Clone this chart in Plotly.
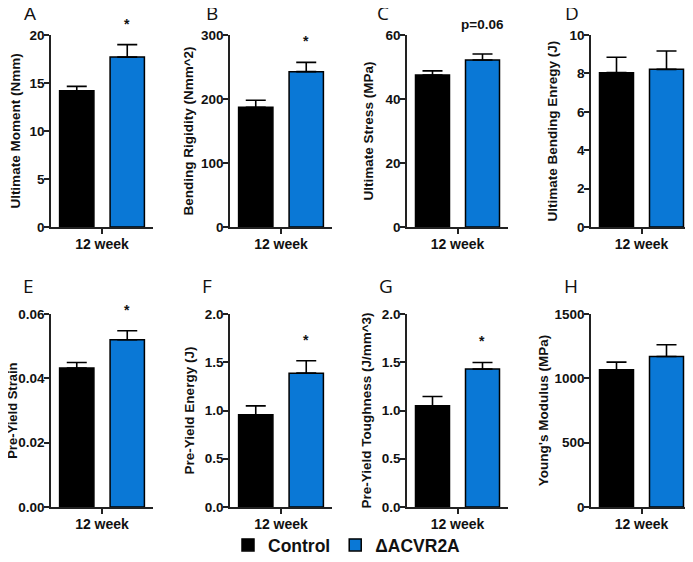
import plotly.graph_objects as go
from plotly.subplots import make_subplots

# The page body adds an 8px margin; the figure is sized so it fills the window from there.
PAGE_W, PAGE_H = 693, 562
OFF = 8
W, H = PAGE_W - OFF, PAGE_H - OFF

# ---------------- data ----------------
groups = ["Control", "ΔACVR2A"]
category = ["12 week"]
panel_letters = ["A", "B", "C", "D", "E", "F", "G", "H"]
y_titles = ["Ultimate Moment (Nmm)", "Bending Rigidity (Nmm^2)", "Ultimate Stress (MPa)",
            "Ultimate Bending Enregy (J)", "Pre-Yield Strain", "Pre-Yield Energy (J)",
            "Pre-Yield Toughness (J/mm^3)", "Young's Modulus (MPa)"]
control_mean = [14.2, 187, 47.5, 8.04, 0.0432, 0.955, 1.05, 1066]
control_sem = [0.45, 11, 1.3, 0.80, 0.0017, 0.093, 0.095, 60]
acvr_mean = [17.7, 242.7, 52.2, 8.21, 0.052, 1.387, 1.429, 1170]
acvr_sem = [1.3, 14.5, 1.85, 0.96, 0.0028, 0.128, 0.069, 91]
y_max = [20, 300, 60, 10, 0.06, 2.0, 2.0, 1500]
y_dtick = [5, 100, 20, 2, 0.02, 0.5, 0.5, 500]
y_format = ["", "", "", "", ".2f", ".1f", ".1f", ""]
significance = ["*", "*", "p=0.06", "", "*", "*", "*", ""]

# ---------------- layout geometry (page px) ----------------
col_px = [(51, 153), (230, 332), (407, 508), (591, 692)]
row_px = [(35, 227), (314, 507)]
letter_px = [(30, 13), (212, 13), (383, 13), (572, 13),
             (28, 286), (207, 286), (386, 286), (571, 286)]
title_standoff = [7, 4, 9, 9, None, 7, 7, 3]   # None: title drawn at the page edge
edge_title_x = 12.3


def fx(px):
    return (px - OFF) / W


def fy(py):
    return 1 - (py - OFF) / H


BLACK = "#000000"
BLUE = "#0a78d6"
AXIS = "#222222"
FONT = "Arial, Liberation Sans, sans-serif"
title_font = dict(family=FONT, size=13.5, color="#111", weight="bold")

fig = make_subplots(rows=2, cols=4)

for i in range(8):
    r, c = divmod(i, 4)
    for name, mean, sem, color in [(groups[0], control_mean, control_sem, BLACK),
                                   (groups[1], acvr_mean, acvr_sem, BLUE)]:
        fig.add_trace(go.Bar(
            x=category, y=[mean[i]], name=name, legendgroup=name,
            showlegend=(i == 0),
            marker=dict(color=color, line=dict(color=BLACK, width=1.5)),
            error_y=dict(type="data", array=[sem[i]], arrayminus=[0], symmetric=False,
                         color=BLACK, thickness=1.6, width=10),
        ), row=r + 1, col=c + 1)

    x0, x1 = col_px[c]
    y0, y1 = row_px[r]
    xa = "xaxis" if i == 0 else f"xaxis{i+1}"
    ya = "yaxis" if i == 0 else f"yaxis{i+1}"
    fig.layout[xa].update(
        domain=[fx(x0), min(fx(x1), 1)], showline=True, linecolor=AXIS, linewidth=1.5,
        ticks="outside", ticklen=5, tickcolor=AXIS, tickwidth=1.5, ticklabelstandoff=-2,
        tickfont=dict(family=FONT, size=14, color="#111", weight="bold"),
        showgrid=False, zeroline=False, fixedrange=True, automargin=False)
    fig.layout[ya].update(
        domain=[fy(y1), fy(y0)], range=[0, y_max[i]], dtick=y_dtick[i],
        tickformat=y_format[i], showline=True, linecolor=AXIS, linewidth=1.5,
        ticks="outside", ticklen=5, tickcolor=AXIS, tickwidth=1.5, ticklabelstandoff=-3,
        tickfont=dict(family=FONT, size=13.5, color="#111", weight="bold"),
        showgrid=False, zeroline=False, fixedrange=True, automargin=False)
    if title_standoff[i] is not None:
        fig.layout[ya].title = dict(text=y_titles[i], font=title_font, standoff=title_standoff[i])
    else:
        fig.add_annotation(x=fx(edge_title_x), y=(fy(y0) + fy(y1)) / 2, xref="paper", yref="paper",
                           text=y_titles[i], textangle=-90, showarrow=False,
                           font=dict(title_font, size=13),
                           xanchor="center", yanchor="middle")

    # panel letter
    lx, ly = letter_px[i]
    fig.add_annotation(x=fx(lx), y=fy(ly), xref="paper", yref="paper",
                       text=panel_letters[i], showarrow=False,
                       font=dict(family="Open Sans, sans-serif", size=19, color="#111"),
                       xanchor="center", yanchor="middle")

    # significance label above the ΔACVR2A bar
    if significance[i]:
        star = significance[i] == "*"
        xref = "x domain" if i == 0 else f"x{i+1} domain"
        yref = "y" if i == 0 else f"y{i+1}"
        fig.add_annotation(x=0.743, y=acvr_mean[i] + acvr_sem[i], xref=xref, yref=yref,
                           text=significance[i], showarrow=False,
                           yshift=21 if star else 30,
                           font=dict(family=FONT, size=14 if star else 13.5, color="#111", weight="bold"),
                           xanchor="center", yanchor="middle")

fig.update_layout(
    width=W, height=H, margin=dict(l=0, r=0, t=0, b=0, autoexpand=False),
    paper_bgcolor="white", plot_bgcolor="white",
    barmode="group", bargap=0.01, bargroupgap=0.32,
    showlegend=True,
    legend=dict(orientation="h", x=fx(347), xanchor="center", y=fy(545), yanchor="middle",
                font=dict(family=FONT, size=17.5, color="#111", weight="bold"),
                itemwidth=30, bgcolor="rgba(0,0,0,0)"),
)

fig.write_html("out.html")
